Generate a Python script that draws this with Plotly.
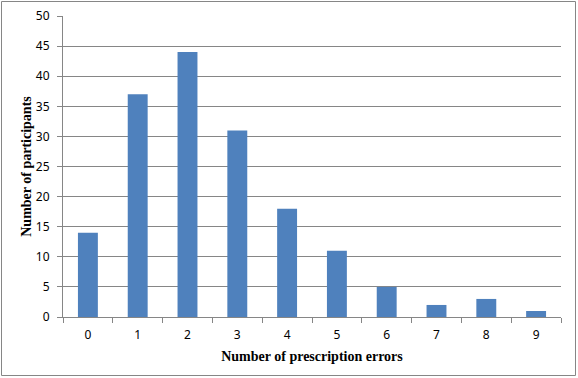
import plotly.graph_objects as go

categories = ["0", "1", "2", "3", "4", "5", "6", "7", "8", "9"]
participants = [14, 37, 44, 31, 18, 11, 5, 2, 3, 1]
y_ticks = [0, 5, 10, 15, 20, 25, 30, 35, 40, 45, 50]

W, H = 578, 378
L, R, T, B = 63, 17, 16, 61
pw, ph = W - L - R, H - T - B

fig = go.Figure(go.Bar(x=categories, y=participants, marker_color="#4F81BD",
                       marker_line_width=0, width=0.4))

fig.update_layout(
    width=W, height=H,
    margin=dict(l=L, r=R, t=T, b=B, autoexpand=False),
    paper_bgcolor="white", plot_bgcolor="white",
    showlegend=False,
    font=dict(family="Noto Sans, DejaVu Sans", size=12, color="#000000"),
    xaxis=dict(type="category", tickson="boundaries", ticks="outside", ticklen=5,
               tickcolor="#868686", showline=True, linecolor="#868686", linewidth=1,
               showgrid=False, range=[-0.5, 9.5], automargin=False,
               ticklabelstandoff=7,
               title=dict(text="<b>Number of prescription errors</b>",
                          font=dict(family="Liberation Serif", size=14), standoff=8),
               tickfont=dict(size=12)),
    yaxis=dict(range=[0, 50], tickvals=y_ticks, ticks="outside", ticklen=5,
               tickcolor="#868686", showline=True, linecolor="#868686", linewidth=1,
               showgrid=True, gridcolor="#868686", gridwidth=1, zeroline=False,
               automargin=False, ticklabelstandoff=5,
               title=dict(text="<b>Number of participants</b>",
                          font=dict(family="Liberation Serif", size=14), standoff=0),
               tickfont=dict(size=12)),
    shapes=[dict(type="rect", xref="paper", yref="paper",
                 x0=(1.5 - L) / pw, x1=(W - 2.5 - L) / pw,
                 y0=-(B - 2.5) / ph,
                 y1=1 + (T - 1.5) / ph,
                 line=dict(color="#868686", width=1))],
)

fig.write_html("out.html", config={"displayModeBar": False},
               post_script="document.body.style.margin='0';document.body.style.overflow='hidden';")
